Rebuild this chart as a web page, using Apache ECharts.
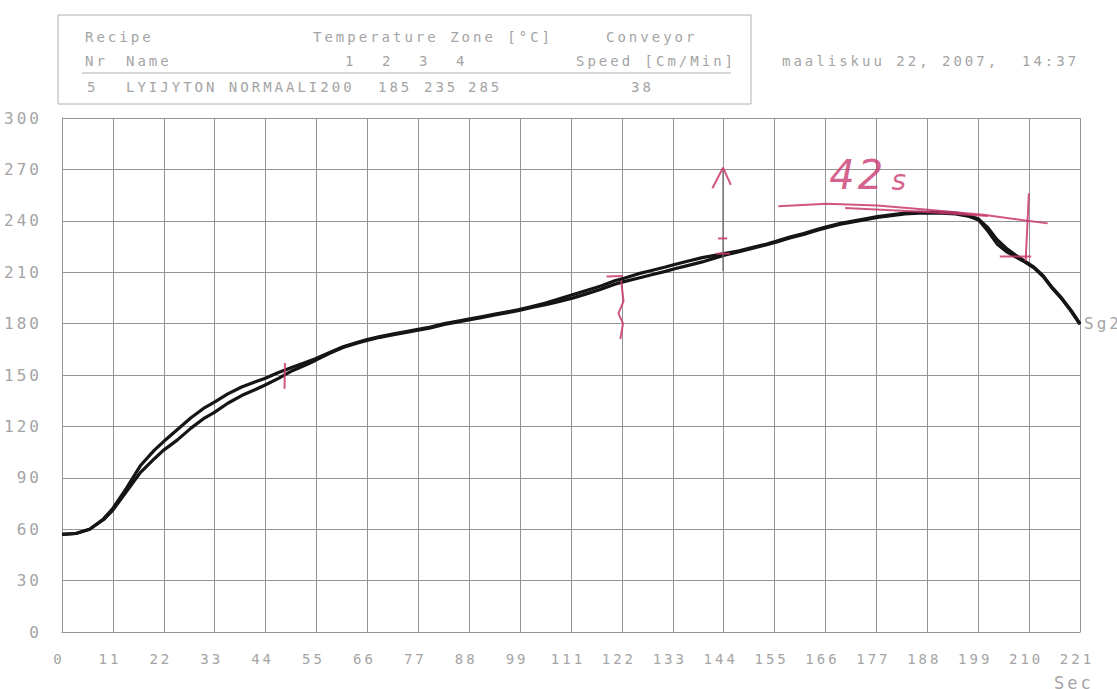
<!DOCTYPE html>
<html>
<head>
<meta charset="utf-8">
<script src="https://cdn.jsdelivr.net/npm/echarts@6/dist/echarts.min.js"></script>
<style>
  html, body { margin: 0; padding: 0; background: #ffffff; }
  #chart { width: 1117px; height: 689px; }
  /* plotter-style wide lettering */
  #chart text { letter-spacing: 3px; }
</style>
</head>
<body>
<div id="chart"></div>
<script>
// Oven profile: sample times (s) and the two probe temperatures (°C)
const seconds = [0,3,6,9,11,14,17,20,22,25,28,31,33,36,39,42,44,47,50,53,55,58,61,64,66,69,72,75,77,80,83,86,88,91,94,97,99,102,105,108,111,114,117,120,122,125,128,131,133,136,139,142,144,147,150,153,155,158,161,164,166,169,172,175,177,180,183,186,188,191,194,197,199,201,203,205,207,209,211,213,215,217,219,221];
const probeA = [57,57.5,60,66,72,84,97,106,111,118,125,131,134,139,143,146,148,151.5,154.5,157.5,159.5,163,166.5,169,170.5,172.5,174,175.5,176.5,178,180,181.5,182.5,184,185.5,187,188,190,192,194.5,197,199.5,202,205,206.5,209,211,213,214.5,216.5,218.5,220,221,222.5,224.5,226.5,228,230.5,232.5,235,236.5,238.5,240,241.5,242.5,243.5,244.5,245,245,245,244.5,243,241,236,229,224,220,216.5,213,208,201,195,188,180];
const probeB = [57,57.5,60,65.5,71,82,93,101,106,112,119,125,128,133.5,138,141.5,144,148,152.5,156,158.5,162.5,166,168.5,170,172,173.5,175,176,177.5,179.5,181,182,183.5,185,186.5,187.5,189.5,191,193,195,197.5,200,203,204.5,206.5,208.5,210.5,212,214,216,218.5,220,222,224,226,227.5,230,232,234.5,236,238,239.5,241,242,243,244,244.5,244.5,244.5,244,242.5,240.5,234,226.5,222,219,216,212.5,207.5,200.5,194.5,187.5,179.5];

// axis tick labels
const xTickLabels = ['0','11','22','33','44','55','66','77','88','99','111','122','133','144','155','166','177','188','199','210','221'];
const xStep = 11.05;
const yTicks = [0,30,60,90,120,150,180,210,240,270,300];

// header block text
const recipeNr = '5';
const recipeName = 'LYIJYTON NORMAALI200';
const zoneNumbers = ['1','2','3','4'];
const zoneTemps = ['185','235','285'];
const conveyorSpeed = '38';
const printedAt = 'maaliskuu 22, 2007,  14:37';
const traceName = 'Sg2';

// hand-drawn ink marks on the sheet (time, °C)
const inkMarks = [
  [[48.3,142],[48.4,157]],
  [[118.2,207.5],[121.8,207.8]],
  [[121.4,205],[121.9,193],[120.8,186],[121.8,180],[121.2,171]],
  [[141.2,259],[143.5,271],[145.2,261]],
  [[142.4,229.7],[144.4,229.7]],
  [[142.0,220.8],[145.0,220.8]],
  [[155.5,248.5],[166,250],[177,249],[188,246.5],[200,243.5],[214,238.5]],
  [[170,247.5],[188,245.2],[201,242.8]],
  [[209.9,256],[209.2,216.5]],
  [[203.6,219.2],[210.4,219.2]]
];
const pencilMarks = [
  [[143.5,210.5],[143.5,271]]
];
const inkNote = { at: [175.4, 267], text: '42', sub: 's' };

const pairs = (vals) => seconds.map((t, i) => [t, vals[i]]);

const labelFont = '"DejaVu Sans Mono", "Liberation Mono", monospace';
const labelGrey = '#a4a4a4';
const ink = '#c9386f';

const series = [
  {
    type: 'line', data: pairs(probeB), showSymbol: false, silent: true,
    lineStyle: { color: '#151515', width: 3.2 }, z: 3
  },
  {
    type: 'line', data: pairs(probeA), showSymbol: false, silent: true,
    lineStyle: { color: '#151515', width: 3.2 }, z: 3,
    endLabel: {
      show: true, formatter: traceName, color: labelGrey,
      fontFamily: labelFont, fontSize: 16, distance: 4
    }
  }
];
pencilMarks.forEach(m => series.push({
  type: 'line', data: m, showSymbol: false, silent: true,
  lineStyle: { color: '#6a6a6a', width: 1.2 }, z: 4
}));
inkMarks.forEach(m => series.push({
  type: 'line', data: m, showSymbol: false, silent: true,
  lineStyle: { color: ink, width: 2, opacity: 0.85 }, z: 5
}));
series.push({
  type: 'scatter', data: [inkNote.at], symbolSize: 2, silent: true,
  itemStyle: { color: 'rgba(0,0,0,0)' }, z: 6,
  label: {
    show: true, position: 'inside',
    formatter: '{a|' + inkNote.text + '}{b|' + inkNote.sub + '}',
    rich: {
      a: { fontFamily: '"DejaVu Sans"', fontStyle: 'italic', fontWeight: 200, fontSize: 40, color: ink, padding: [0, 10, 0, 0] },
      b: { fontFamily: '"DejaVu Sans"', fontStyle: 'italic', fontWeight: 200, fontSize: 28, color: ink, padding: [12, 0, 0, 0] }
    }
  }
});

const hdr = (text, x, y, extra) => ({
  type: 'text', silent: true,
  style: Object.assign({ text, x, y, fill: labelGrey, font: '14px ' + labelFont, verticalAlign: 'middle' }, extra || {})
});

const chart = echarts.init(document.getElementById('chart'), null, { renderer: 'svg' });
chart.setOption({
  backgroundColor: '#ffffff',
  animation: false,
  grid: { left: 62, right: 37, top: 118, bottom: 57 },
  xAxis: {
    type: 'value', min: 0, max: 221, interval: xStep,
    axisLine: { show: true, lineStyle: { color: '#949494', width: 1 } },
    axisTick: { show: false },
    splitLine: { show: true, lineStyle: { color: '#949494', width: 1 } },
    axisLabel: {
      color: labelGrey, fontFamily: labelFont, fontSize: 14, margin: 20,
      padding: [0, 6, 0, 0],
      formatter: (v) => xTickLabels[Math.round(v / xStep)]
    }
  },
  yAxis: {
    type: 'value', min: yTicks[0], max: yTicks[yTicks.length - 1], interval: yTicks[1] - yTicks[0],
    axisLine: { show: true, lineStyle: { color: '#949494', width: 1 } },
    axisTick: { show: false },
    splitLine: { show: true, lineStyle: { color: '#949494', width: 1 } },
    axisLabel: { color: labelGrey, fontFamily: labelFont, fontSize: 16, margin: 20 }
  },
  graphic: [
    { type: 'rect', silent: true, shape: { x: 58, y: 15, width: 693, height: 89 },
      style: { fill: 'none', stroke: '#b0b0b0', lineWidth: 1 } },
    { type: 'line', silent: true, shape: { x1: 82, y1: 73, x2: 731, y2: 73 },
      style: { stroke: '#b0b0b0', lineWidth: 1 } },
    hdr('Recipe', 85, 37),
    hdr('Temperature Zone [°C]', 313, 37),
    hdr('Conveyor', 606, 37),
    hdr('Nr', 85, 61),
    hdr('Name', 126, 61),
    hdr(zoneNumbers[0], 345, 61),
    hdr(zoneNumbers[1], 382, 61),
    hdr(zoneNumbers[2], 419, 61),
    hdr(zoneNumbers[3], 456, 61),
    hdr('Speed [Cm/Min]', 576, 61),
    hdr(recipeNr, 87, 87),
    hdr(recipeName, 126, 87),
    hdr(zoneTemps[0], 378, 87),
    hdr(zoneTemps[1], 424, 87),
    hdr(zoneTemps[2], 468, 87),
    hdr(conveyorSpeed, 631, 87),
    hdr(printedAt, 782, 61),
    hdr('Sec', 1054, 683, { font: '17px ' + labelFont })
  ],
  series
});
</script>
</body>
</html>
